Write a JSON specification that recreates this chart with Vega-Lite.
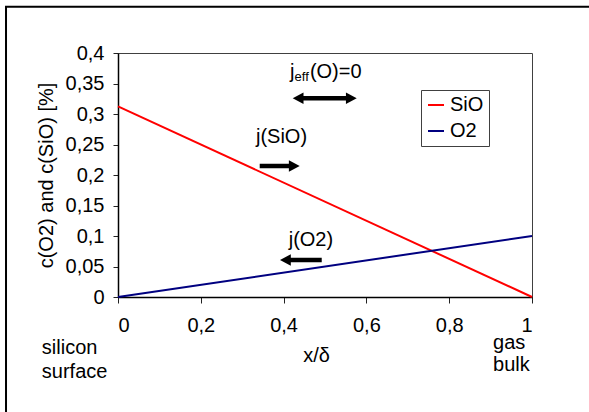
{
  "$schema": "https://vega.github.io/schema/vega-lite/v6.json",
  "width": 414,
  "height": 244,
  "autosize": {"type": "none"},
  "padding": {"left": 118, "top": 53, "right": 57, "bottom": 115},
  "background": "white",
  "config": {
    "font": "Liberation Sans",
    "view": {"stroke": "#404040", "strokeWidth": 1},
    "axis": {
      "grid": false,
      "domainColor": "black",
      "domainWidth": 1.5,
      "tickColor": "#222",
      "labelColor": "black",
      "titleColor": "black",
      "labelFont": "Liberation Sans",
      "titleFont": "Liberation Sans",
      "labelFontSize": 20,
      "titleFontSize": 20,
      "titleFontWeight": "normal",
      "labelOverlap": false
    },
    "text": {"font": "Liberation Sans", "fontSize": 20, "color": "black"}
  },
  "datasets": {
    "profiles": [
      {"x": 0, "c": 0.3125, "species": "SiO"},
      {"x": 1, "c": 0, "species": "SiO"},
      {"x": 0, "c": 0, "species": "O2"},
      {"x": 1, "c": 0.1, "species": "O2"}
    ],
    "shafts": [
      {"arrow": "jeff", "xa": 0.440, "xb": 0.559, "y": 0.3257},
      {"arrow": "jSiO", "xa": 0.3423, "xb": 0.422, "y": 0.2148},
      {"arrow": "jO2", "xa": 0.408, "xb": 0.4921, "y": 0.0607}
    ],
    "heads": [
      {"arrow": "jeff", "x": 0.5766, "y": 0.3257, "dir": "right"},
      {"arrow": "jeff", "x": 0.4220, "y": 0.3257, "dir": "left"},
      {"arrow": "jSiO", "x": 0.4389, "y": 0.2148, "dir": "right"},
      {"arrow": "jO2", "x": 0.3913, "y": 0.0607, "dir": "left"}
    ],
    "centered": [
      {"x": 0.395, "y": 0.2623, "label": "j(SiO)"},
      {"x": 0.466, "y": 0.0934, "label": "j(O2)"}
    ],
    "jeffMain": [
      {"x": 0.4155, "y": 0.3585, "label": "j"},
      {"x": 0.4635, "y": 0.3585, "label": "(O)=0"}
    ],
    "jeffSub": [
      {"x": 0.4265, "y": 0.3545, "label": "eff"}
    ],
    "edgeNotes": [
      {"x": -0.184, "y": -0.0828, "label": "silicon"},
      {"x": -0.184, "y": -0.123, "label": "surface"},
      {"x": 0.906, "y": -0.0746, "label": "gas"},
      {"x": 0.906, "y": -0.1115, "label": "bulk"}
    ],
    "frame": [
      {"left": -0.2705, "right": 1.3, "top": 0.4759, "bottom": -0.4}
    ]
  },
  "layer": [
    {
      "data": {"name": "frame"},
      "mark": {"type": "rect", "fill": null, "stroke": "black", "strokeWidth": 2, "clip": false},
      "encoding": {
        "x": {"field": "left", "type": "quantitative"},
        "x2": {"field": "right"},
        "y": {"field": "top", "type": "quantitative"},
        "y2": {"field": "bottom"}
      }
    },
    {
      "data": {"name": "profiles"},
      "mark": {"type": "line", "strokeWidth": 2},
      "encoding": {
        "x": {
          "field": "x", "type": "quantitative",
          "scale": {"domain": [0, 1], "nice": false, "zero": false},
          "axis": {
            "title": "x/δ",
            "values": [0, 0.2, 0.4, 0.6, 0.8, 1],
            "tickCount": 12,
            "labelExpr": "replace(format(datum.value, '.1~f'), '.', ',')",
            "tickSize": 6,
            "labelPadding": 12,
            "titleX": 198,
            "titleY": 58,
            "titleBaseline": "middle"
          }
        },
        "y": {
          "field": "c", "type": "quantitative",
          "scale": {"domain": [0, 0.4], "nice": false, "zero": false},
          "axis": {
            "title": "c(O2) and c(SiO) [%]",
            "values": [0, 0.05, 0.1, 0.15, 0.2, 0.25, 0.3, 0.35, 0.4],
            "tickCount": 20,
            "labelOverlap": false,
            "labelExpr": "replace(format(datum.value, '.2~f'), '.', ',')",
            "tickSize": 5,
            "labelPadding": 9,
            "titleX": -72,
            "titleY": 122,
            "titleBaseline": "middle"
          }
        },
        "color": {
          "field": "species", "type": "nominal",
          "scale": {"domain": ["SiO", "O2"], "range": ["#FF0000", "#000080"]},
          "legend": {
            "title": null,
            "orient": "none",
            "legendX": 303,
            "legendY": 37,
            "padding": 5,
            "strokeColor": "#404040",
            "fillColor": "white",
            "symbolType": "stroke",
            "symbolSize": 256,
            "symbolStrokeWidth": 2,
            "labelFontSize": 20,
            "labelFont": "Liberation Sans",
            "labelColor": "black",
            "labelOffset": 4,
            "rowPadding": 6
          }
        }
      }
    },
    {
      "data": {"name": "shafts"},
      "mark": {"type": "rule", "color": "black", "strokeWidth": 4.5},
      "encoding": {
        "x": {"field": "xa", "type": "quantitative"},
        "x2": {"field": "xb"},
        "y": {"field": "y", "type": "quantitative"}
      }
    },
    {
      "data": {"name": "heads"},
      "transform": [{"filter": "datum.dir == 'right'"}],
      "mark": {"type": "point", "shape": "M0,0L-1.8,-0.95L-1.8,0.95Z", "filled": true, "color": "black", "size": 144, "opacity": 1},
      "encoding": {
        "x": {"field": "x", "type": "quantitative"},
        "y": {"field": "y", "type": "quantitative"}
      }
    },
    {
      "data": {"name": "heads"},
      "transform": [{"filter": "datum.dir == 'left'"}],
      "mark": {"type": "point", "shape": "M0,0L1.8,-0.95L1.8,0.95Z", "filled": true, "color": "black", "size": 144, "opacity": 1},
      "encoding": {
        "x": {"field": "x", "type": "quantitative"},
        "y": {"field": "y", "type": "quantitative"}
      }
    },
    {
      "data": {"name": "centered"},
      "mark": {"type": "text", "align": "center", "baseline": "middle", "fontSize": 20},
      "encoding": {
        "x": {"field": "x", "type": "quantitative"},
        "y": {"field": "y", "type": "quantitative"},
        "text": {"field": "label"}
      }
    },
    {
      "data": {"name": "jeffMain"},
      "mark": {"type": "text", "align": "left", "baseline": "alphabetic", "fontSize": 20},
      "encoding": {
        "x": {"field": "x", "type": "quantitative"},
        "y": {"field": "y", "type": "quantitative"},
        "text": {"field": "label"}
      }
    },
    {
      "data": {"name": "jeffSub"},
      "mark": {"type": "text", "align": "left", "baseline": "alphabetic", "fontSize": 13},
      "encoding": {
        "x": {"field": "x", "type": "quantitative"},
        "y": {"field": "y", "type": "quantitative"},
        "text": {"field": "label"}
      }
    },
    {
      "data": {"name": "edgeNotes"},
      "mark": {"type": "text", "align": "left", "baseline": "middle", "fontSize": 20},
      "encoding": {
        "x": {"field": "x", "type": "quantitative"},
        "y": {"field": "y", "type": "quantitative"},
        "text": {"field": "label"}
      }
    }
  ]
}
